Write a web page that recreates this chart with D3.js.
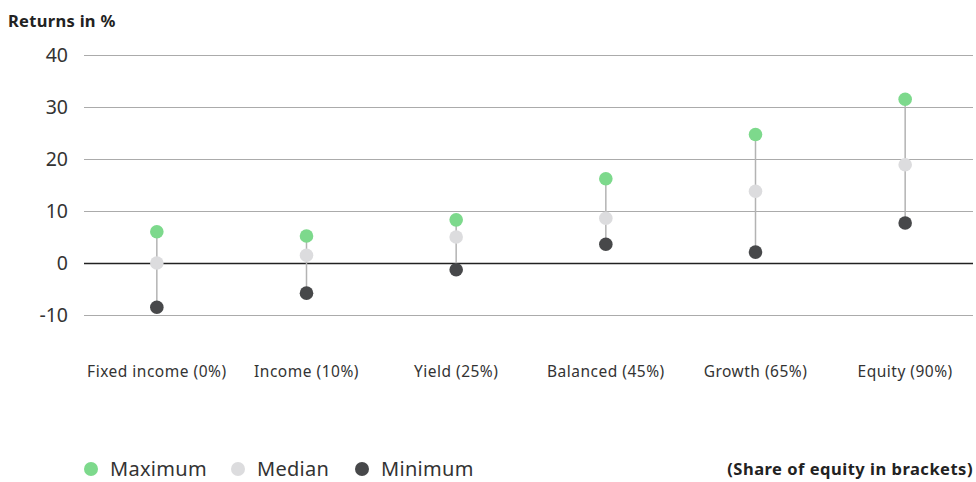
<!DOCTYPE html>
<html>
<head>
<meta charset="utf-8">
<script src="https://cdn.jsdelivr.net/npm/d3@7"></script>
<style>
  html, body { margin: 0; padding: 0; background: #fff; }
  svg { display: block; font-family: "Noto Sans", "Open Sans", sans-serif; }
</style>
</head>
<body>
<svg id="chart" width="976" height="482"></svg>
<script>
// Portfolio return ranges by strategy
const categories = ["Fixed income (0%)", "Income (10%)", "Yield (25%)", "Balanced (45%)", "Growth (65%)", "Equity (90%)"];
const maximum = [6.0, 5.2, 8.3, 16.2, 24.7, 31.5];
const median  = [0.0, 1.5, 5.0, 8.6, 13.8, 18.9];
const minimum = [-8.5, -5.8, -1.3, 3.6, 2.1, 7.7];
const yTicks = [40, 30, 20, 10, 0, -10];

const colors = { max: "#7dd98c", med: "#dcdcde", min: "#47484a" };

const svg = d3.select("#chart");
const gridLeft = 84, gridRight = 973;

const y = d3.scaleLinear().domain([-10, 40]).range([315, 55]);
const x = d3.scaleBand().domain(categories).range([82, 980]);
const cx = d => x(d) + x.bandwidth() / 2;

// Title
svg.append("text").attr("x", 8).attr("y", 27)
  .attr("font-size", 16.5).attr("font-weight", 700).attr("fill", "#222")
  .attr("letter-spacing", 0.3)
  .text("Returns in %");

// Y axis with gridlines
const yAxis = d3.axisLeft(y).tickValues(yTicks).tickSize(-(gridRight - gridLeft)).tickPadding(16)
  .tickFormat(d => String(d));
const gy = svg.append("g").attr("transform", `translate(${gridLeft},0)`).call(yAxis);
gy.select(".domain").remove();
gy.selectAll(".tick line")
  .attr("stroke", d => d === 0 ? "#222" : "#ababab")
  .attr("stroke-width", d => d === 0 ? 1.3 : 1.2);
gy.selectAll(".tick text").attr("font-size", 19.5).attr("fill", "#333")
  .attr("font-family", "'Noto Sans', sans-serif");

// Category axis labels
const xAxis = d3.axisBottom(x).tickSize(0).tickPadding(0);
const gx = svg.append("g").attr("transform", "translate(0,368)").call(xAxis);
gx.select(".domain").remove();
gx.selectAll(".tick text").attr("font-size", 15.5).attr("fill", "#333")
  .attr("font-family", "'Noto Sans', sans-serif")
  .attr("letter-spacing", 0.5).attr("dy", "0.55em");

// Range connectors
svg.append("g").selectAll("line").data(categories).join("line")
  .attr("x1", d => cx(d)).attr("x2", d => cx(d))
  .attr("y1", (d, i) => y(maximum[i])).attr("y2", (d, i) => y(minimum[i]))
  .attr("stroke", "#b3b3b3").attr("stroke-width", 1.5);

// Dots
const series = [
  { vals: minimum, color: colors.min },
  { vals: median, color: colors.med },
  { vals: maximum, color: colors.max }
];
series.forEach(s => {
  svg.append("g").selectAll("circle").data(categories).join("circle")
    .attr("cx", d => cx(d)).attr("cy", (d, i) => y(s.vals[i]))
    .attr("r", 6.8).attr("fill", s.color);
});

// Legend
const legend = [
  { label: "Maximum", color: colors.max, x: 91 },
  { label: "Median", color: colors.med, x: 238 },
  { label: "Minimum", color: colors.min, x: 362 }
];
const lg = svg.append("g");
lg.selectAll("circle").data(legend).join("circle")
  .attr("cx", d => d.x).attr("cy", 469).attr("r", 7).attr("fill", d => d.color);
lg.selectAll("text").data(legend).join("text")
  .attr("x", d => d.x + 19).attr("y", 476)
  .attr("font-size", 20).attr("fill", "#333").attr("letter-spacing", 0.3).text(d => d.label);

svg.append("text").attr("x", 973).attr("y", 475).attr("text-anchor", "end")
  .attr("font-size", 16.5).attr("font-weight", 700).attr("fill", "#222")
  .attr("letter-spacing", 0.5)
  .text("(Share of equity in brackets)");
</script>
</body>
</html>
